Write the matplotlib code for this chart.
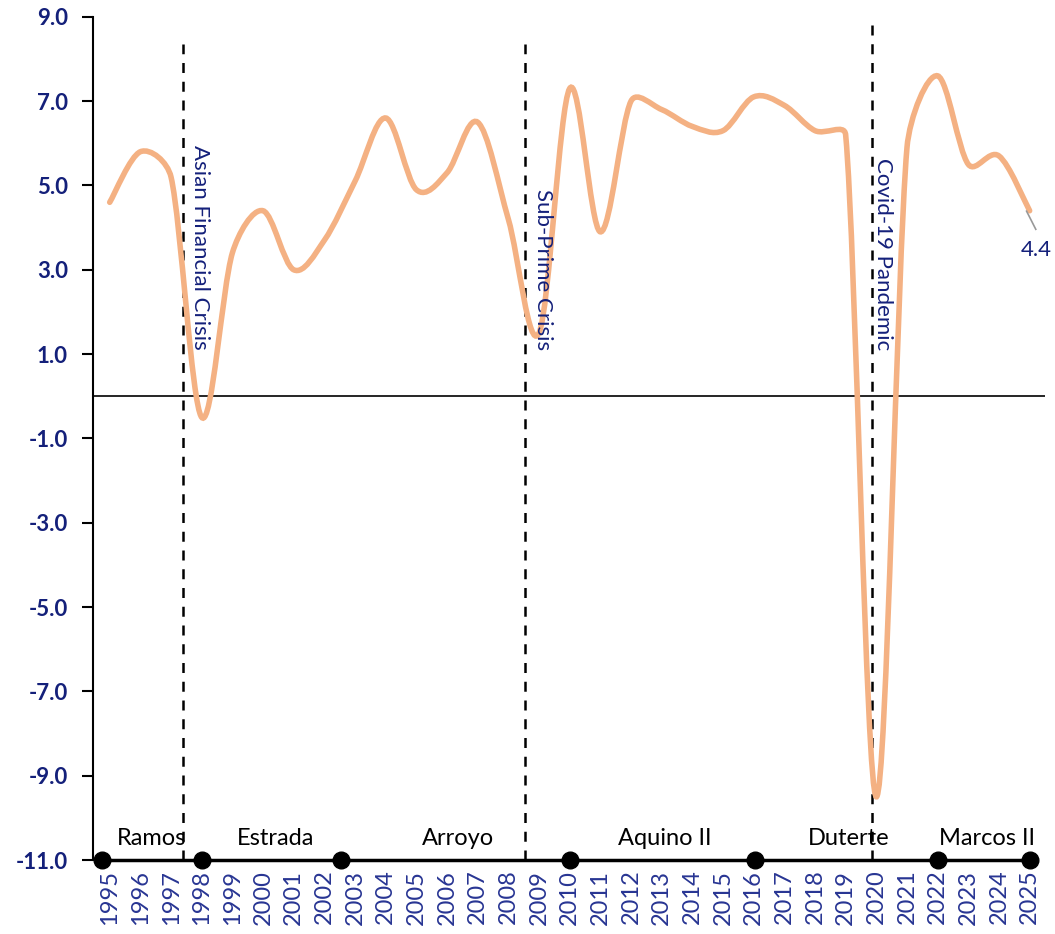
import numpy as np
import matplotlib.pyplot as plt
from matplotlib.path import Path
from matplotlib.patches import PathPatch

plt.rcParams['font.family'] = ['Lato', 'DejaVu Sans']

years = list(range(1995, 2026))
gdp = [4.6, 5.8, 5.2, -0.5, 3.4, 4.4, 3.0, 3.7, 5.1, 6.6,
       4.9, 5.3, 6.5, 4.2, 1.5, 7.3, 3.9, 7.0, 6.8, 6.4,
       6.3, 7.1, 6.9, 6.3, 6.2, -9.5, 5.9, 7.6, 5.5, 5.7, 4.4]

# presidential terms (timeline along the bottom)
term_dots = [1994.75, 1998, 2002.55, 2010, 2016.05, 2022, 2025]
presidents = ['Ramos', 'Estrada', 'Arroyo', 'Aquino II', 'Duterte', 'Marcos II']
pres_x = [1996.37, 2000.4, 2006.35, 2013.1, 2019.1, 2023.6]

crisis_x = [1997.38, 2008.53, 2019.85]
crisis_top = [8.35, 8.35, 8.8]
crisis_names = ['Asian Financial Crisis', 'Sub-Prime Crisis', 'Covid-19 Pandemic']
crisis_label_x = [1997.93, 2009.12, 2020.23]

navy = '#14207a'
orange = '#f4b183'


def smooth_path(ax, x, y, k=0.4):
    # catmull-rom bezier in pixel space, handles clamped to a share of the
    # segment length so short segments next to big jumps don't overshoot
    tr = ax.transData
    pts = tr.transform(np.column_stack([x, y]).astype(float))
    n = len(pts)
    verts = [pts[0]]
    codes = [Path.MOVETO]
    for i in range(n - 1):
        p0 = pts[max(i - 1, 0)]
        p1 = pts[i]
        p2 = pts[i + 1]
        p3 = pts[min(i + 2, n - 1)]
        L = np.hypot(*(p2 - p1))
        h1 = (p2 - p0) / 6
        h2 = (p3 - p1) / 6
        for h in (h1, h2):
            ln = np.hypot(*h)
            if ln > k * L:
                h *= k * L / ln
        verts += [p1 + h1, p2 - h2, p2]
        codes += [Path.CURVE4] * 3
    verts = tr.inverted().transform(np.array(verts))
    return Path(verts, codes)


fig = plt.figure(figsize=(10.55, 9.34), dpi=100)
ax = fig.add_axes([0.088, 0.0792, 0.9025, 0.9028])

ax.set_xlim(1994.45, 2025.5)
ax.set_ylim(-11, 9)

ax.axhline(0, color='black', lw=1.2, zorder=1)

for cx, top in zip(crisis_x, crisis_top):
    ax.plot([cx, cx], [-11, top], color='black', lw=1.8, ls=(0, (4, 3.5)), zorder=2)

for lx, name in zip(crisis_label_x, crisis_names):
    ax.text(lx, 1.1, name, rotation=270, ha='center', va='bottom',
            fontsize=16, color=navy, zorder=5)

ax.add_patch(PathPatch(smooth_path(ax, years, gdp), facecolor='none',
                       edgecolor=orange, lw=4, capstyle='round', zorder=3))

# end label
ax.plot([years[-1] - 0.1, 2025.2], [gdp[-1] - 0.01, 3.96], color='#999999', lw=1.2, zorder=3)
ax.text(2025.2, 3.47, f'{gdp[-1]:.1f}', ha='center', va='center', fontsize=16, color=navy)

# timeline
ax.plot(term_dots, [-11] * len(term_dots), color='black', lw=2.5, marker='o',
        ms=12, clip_on=False, zorder=4)
for px, name in zip(pres_x, presidents):
    ax.text(px, -10.48, name, ha='center', va='center', fontsize=17, color='black')

ax.set_yticks(np.arange(-11, 10, 2))
ax.set_yticklabels([f'{v:.1f}' for v in np.arange(-11, 10, 2)],
                   fontsize=16, fontweight='bold', color=navy)
ax.set_xticks(years)
ax.set_xticklabels([str(y) for y in years], rotation=90, fontsize=17, color='#283593')
ax.tick_params(axis='x', length=0, pad=7)
ax.tick_params(axis='y', length=8, width=1.5, direction='out', pad=10)

for s in ['top', 'right', 'bottom']:
    ax.spines[s].set_visible(False)
ax.spines['left'].set_linewidth(1.5)

fig.savefig('out.png', dpi=100)
